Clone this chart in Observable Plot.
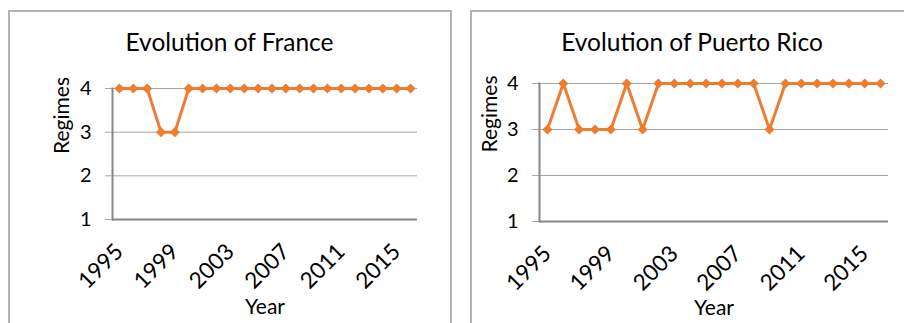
<!DOCTYPE html>
<html>
<head>
<meta charset="utf-8">
<script src="https://cdn.jsdelivr.net/npm/d3@7"></script>
<script src="https://cdn.jsdelivr.net/npm/@observablehq/plot@0.6"></script>
<style>
  html, body { margin: 0; padding: 0; background: #fff; }
  body { width: 904px; height: 323px; overflow: hidden; position: relative; font-family: Lato, "Open Sans", sans-serif; }
  .border { position: absolute; box-sizing: border-box; border: 2px solid #b3b3b3; border-bottom: none; }
  .title { position: absolute; text-align: center; font-size: 24.5px; line-height: 24px; color: #000; white-space: nowrap; }
  .chart { position: absolute; }
  .chart svg { overflow: visible; }
</style>
</head>
<body>
<div class="border" style="left:8px; top:10px; width:444px; height:330px;"></div>
<div class="border" style="left:470px; top:10px; width:450px; height:330px;"></div>
<div class="title" style="left:8px; width:443px; top:30px;">Evolution of France</div>
<div class="title" style="left:470px; width:444px; top:30px;">Evolution of Puerto Rico</div>
<div class="chart" id="left" style="left:8px; top:10px;"></div>
<div class="chart" id="right" style="left:470px; top:10px;"></div>
<script>
const years = [1995, 1996, 1997, 1998, 1999, 2000, 2001, 2002, 2003, 2004, 2005,
               2006, 2007, 2008, 2009, 2010, 2011, 2012, 2013, 2014, 2015, 2016];
const franceRegimes = [4, 4, 4, 3, 3, 4, 4, 4, 4, 4, 4, 4, 4, 4, 4, 4, 4, 4, 4, 4, 4, 4];
const puertoRicoRegimes = [3, 4, 3, 3, 3, 4, 3, 4, 4, 4, 4, 4, 4, 4, 3, 4, 4, 4, 4, 4, 4, 4];
const yearTicks = [1995, 1999, 2003, 2007, 2011, 2015];
const regimeTicks = [1, 2, 3, 4];
const gridTicks = [2, 3, 4];
const xLabel = "Year";
const yLabel = "Regimes";

const ORANGE = "#ED7D31";
const AXIS = "#868686";
const GRID = "#a6a6a6";
const FONT = "Lato, 'Open Sans', sans-serif";

function panel(values, o) {
  const data = years.map((y, i) => ({year: y, value: values[i]}));
  return Plot.plot({
    width: o.width,
    height: o.height,
    marginLeft: o.ml,
    marginRight: o.mr,
    marginTop: o.mt,
    marginBottom: o.mb,
    style: {fontFamily: FONT, background: "transparent", color: "#000"},
    x: {type: "point", domain: years, padding: 0.5, round: false, axis: null},
    y: {domain: [1, 4], axis: null},
    marks: [
      Plot.gridY(gridTicks, {stroke: GRID, strokeOpacity: 1, strokeWidth: 1}),
      Plot.axisY({ticks: regimeTicks, tickSize: 7, tickPadding: 14, stroke: GRID, strokeOpacity: 1,
                  fill: "#000", fontSize: 20, label: null, tickFormat: d => String(d)}),
      Plot.ruleY([1], {stroke: AXIS, strokeWidth: 2}),
      Plot.frame({anchor: "left", stroke: AXIS, strokeWidth: 2}),
      Plot.text(yearTicks, {x: d => d, frameAnchor: "bottom", rotate: -45, textAnchor: "end",
                            lineAnchor: "middle", dx: o.tdx, dy: o.tdy, fontSize: 22.5, fill: "#000",
                            text: d => String(d)}),
      Plot.text([xLabel], {frameAnchor: "bottom", lineAnchor: "bottom", dy: o.xdy, fontSize: 21, fill: "#000"}),
      Plot.text([yLabel], {frameAnchor: "left", rotate: -90, lineAnchor: "middle", dx: o.ydx, fontSize: 21, fill: "#000"}),
      Plot.line(data, {x: "year", y: "value", stroke: ORANGE, strokeWidth: 3}),
      Plot.dot(data, {x: "year", y: "value", symbol: "diamond2", r: 4.6, fill: ORANGE, stroke: null})
    ]
  });
}

document.getElementById("left").appendChild(panel(franceRegimes, {
  width: 443, height: 313, ml: 104, mr: 34, mt: 78, mb: 104,
  tdx: 0, tdy: 28.5, xdy: 94, ydx: -50
}));
document.getElementById("right").appendChild(panel(puertoRicoRegimes, {
  width: 434, height: 313, ml: 69, mr: 16, mt: 73, mb: 102,
  tdx: 0, tdy: 28.5, xdy: 93, ydx: -49
}));
</script>
</body>
</html>
